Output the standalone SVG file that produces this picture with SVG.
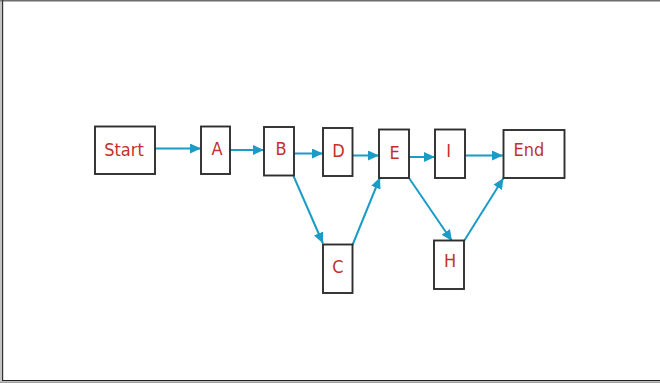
<svg xmlns="http://www.w3.org/2000/svg" width="660" height="383" viewBox="0 0 660 383">
<style>
.box{fill:#fff;stroke:#2e2e2e;stroke-width:1.9}
.lbl{font-family:"DejaVu Sans Condensed","DejaVu Sans",sans-serif;font-stretch:condensed;font-size:18px;fill:#c4302b;text-anchor:middle}
.edge{stroke:#1a9cc4;stroke-width:2;fill:none;marker-end:url(#ah)}
</style>
<defs>
<marker id="ah" viewBox="0 0 11 10" refX="11" refY="5" markerWidth="11" markerHeight="10" markerUnits="userSpaceOnUse" orient="auto">
<path d="M0,0 L11,5 L0,10 z" fill="#1a9cc4"/>
</marker>
</defs>
<rect width="660" height="383" fill="#fff"/>
<g id="frame">
<line x1="0" y1="0.7" x2="660" y2="0.7" stroke="#6e6e6e" stroke-width="1.5"/>
<line x1="1" y1="0" x2="1" y2="383" stroke="#8a8a8a" stroke-width="1"/>
<line x1="2.6" y1="0" x2="2.6" y2="381" stroke="#333" stroke-width="1.2"/>
<line x1="2" y1="380.6" x2="660" y2="380.6" stroke="#222" stroke-width="1.3"/>
<line x1="0" y1="382.3" x2="660" y2="382.3" stroke="#8a8a8a" stroke-width="1"/>
</g>
<g id="connectors">
<line class="edge" x1="155" y1="148.5" x2="201" y2="148.5"/>
<line class="edge" x1="230" y1="150" x2="264" y2="150"/>
<line class="edge" x1="294" y1="153.5" x2="323" y2="153.5"/>
<line class="edge" x1="352" y1="155.5" x2="379" y2="155.5"/>
<line class="edge" x1="409" y1="157" x2="435" y2="157"/>
<line class="edge" x1="465" y1="155.5" x2="503" y2="155.5"/>
<line class="edge" x1="293.5" y1="176" x2="323" y2="243.5"/>
<line class="edge" x1="352.5" y1="245" x2="380" y2="177.5"/>
<line class="edge" x1="409" y1="178" x2="452" y2="241"/>
<line class="edge" x1="464" y1="241" x2="503.5" y2="178"/>
</g>
<g id="node-start"><rect class="box" x="95" y="126.5" width="60" height="47.5"/><text class="lbl" x="124" y="155.5">Start</text></g>
<g id="node-a"><rect class="box" x="201" y="126.5" width="29" height="47.5"/><text class="lbl" x="217" y="154.5">A</text></g>
<g id="node-b"><rect class="box" x="264" y="127" width="30" height="48.5"/><text class="lbl" x="281" y="154.5">B</text></g>
<g id="node-d"><rect class="box" x="323" y="128" width="29.5" height="48"/><text class="lbl" x="338.5" y="156.5">D</text></g>
<g id="node-e"><rect class="box" x="379" y="129.5" width="30" height="48.5"/><text class="lbl" x="394.5" y="158.5">E</text></g>
<g id="node-i"><rect class="box" x="435" y="129.5" width="30" height="48.5"/><text class="lbl" x="448.7" y="156.5">I</text></g>
<g id="node-end"><rect class="box" x="503.5" y="130" width="61" height="48"/><text class="lbl" x="529" y="155.5">End</text></g>
<g id="node-c"><rect class="box" x="323" y="244.5" width="29.5" height="48.5"/><text class="lbl" x="338" y="272.5">C</text></g>
<g id="node-h"><rect class="box" x="434" y="240.5" width="30" height="48.5"/><text class="lbl" x="450" y="267">H</text></g>
</svg>
